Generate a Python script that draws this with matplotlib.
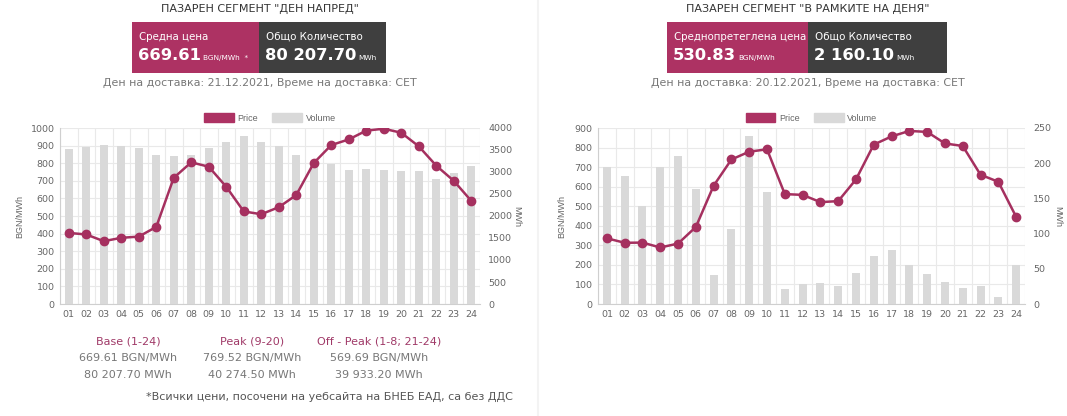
import numpy as np
import matplotlib
matplotlib.use("Agg")
from matplotlib import pyplot as plt
from matplotlib.patches import Rectangle, Patch

hours = ["%02d" % h for h in range(1, 25)]

# ден напред (day ahead), 21.12.2021
dam_price = [404, 395, 357, 376, 383, 438, 717, 805, 780, 666, 526, 510,
             550, 619, 801, 903, 935, 985, 996, 973, 896, 786, 700, 586]
dam_volume = [3522, 3560, 3613, 3598, 3537, 3393, 3355, 3393, 3545, 3681, 3818, 3674,
              3598, 3385, 3142, 3180, 3051, 3059, 3051, 3021, 3021, 2839, 2983, 3127]

# в рамките на деня (intraday), 20.12.2021
idm_price = [336, 313, 314, 289, 309, 394, 605, 739, 779, 791, 562, 558,
             521, 526, 637, 815, 857, 885, 880, 821, 808, 661, 625, 446]
idm_volume = [194, 182, 139, 194, 210, 163, 41, 107, 239, 159, 21, 28,
              30, 25, 44, 68, 76, 55, 42, 31, 23, 25, 10, 55]

W, H = 1067, 416
MAGENTA = "#ad3263"
LINE = "#a5305f"
DARK = "#3f3f3f"
BAR = "#d9d9d9"
GRID = "#e9e9e9"
TXT = "#666666"

plt.rcParams["font.family"] = ["DejaVu Sans"]

fig = plt.figure(figsize=(W / 100, H / 100), dpi=100)
fig.patch.set_facecolor("white")


def px_axes(x0, y0, x1, y1):
    return fig.add_axes([x0 / W, 1 - y1 / H, (x1 - x0) / W, (y1 - y0) / H])


def draw_chart(x0, x1, price, volume, pmax, pstep, vmax, vstep, ylab_x, ylab2_x):
    y0, y1 = 128, 304
    x = np.arange(len(hours))
    base = px_axes(x0, y0, x1, y1)
    base.set_xlim(-0.5, len(hours) - 0.5)
    base.set_ylim(0, pmax)
    base.set_yticks(np.arange(0, pmax + 1, pstep))
    base.set_xticks(x)
    base.set_xticklabels(hours)
    base.set_xticks(np.arange(-0.5, len(hours)), minor=True)
    base.grid(True, which="major", axis="y", color=GRID, lw=0.8)
    base.grid(True, which="minor", axis="x", color=GRID, lw=0.8)
    base.tick_params(which="both", length=0)
    base.tick_params(axis="both", labelsize=6.8, labelcolor=TXT, pad=4)
    for s in ["top", "right"]:
        base.spines[s].set_visible(False)
    for s in ["left", "bottom"]:
        base.spines[s].set_color("#cfcfcf")
        base.spines[s].set_linewidth(0.8)

    vol = base.twinx()
    vol.bar(x, volume, width=0.45, color=BAR, zorder=2)
    vol.set_ylim(0, vmax)
    vol.set_yticks(np.arange(0, vmax + 1, vstep))
    vol.tick_params(length=0, labelsize=6.8, labelcolor=TXT, pad=6)
    for s in vol.spines.values():
        s.set_visible(False)

    top = base.twinx()
    top.plot(x, price, color=LINE, lw=1.8, marker="o", ms=6,
             markerfacecolor=LINE, markeredgecolor=LINE, zorder=3)
    top.set_ylim(0, pmax)
    top.set_yticks([])
    for s in top.spines.values():
        s.set_visible(False)

    fig.text(ylab_x / W, 1 - 216 / H, "BGN/MWh", rotation=90, ha="center", va="center",
             fontsize=6.5, color=TXT, family="Liberation Sans")
    fig.text(ylab2_x / W, 1 - 216 / H, "MWh", rotation=-90, ha="center", va="center",
             fontsize=6.5, color=TXT, family="Liberation Sans")

    handles = [Patch(facecolor=MAGENTA, edgecolor=MAGENTA, label="Price"),
               Patch(facecolor=BAR, edgecolor=BAR, label="Volume")]
    base.legend(handles=handles, loc="lower center", bbox_to_anchor=(0.5, 1.0), ncol=2,
                frameon=False, handlelength=3.3, handleheight=1.0,
                columnspacing=1.6, handletextpad=0.4, borderaxespad=0.2,
                labelcolor=TXT, prop={"family": "Liberation Sans", "size": 6.5})


draw_chart(60, 480, dam_price, dam_volume, 1000, 100, 4000, 500, 20, 517)
draw_chart(598, 1025, idm_price, idm_volume, 900, 100, 250, 50, 562, 1058)

# overlay in pixel coordinates for header and footer blocks
ov = fig.add_axes([0, 0, 1, 1], zorder=-5)
ov.set_xlim(0, W)
ov.set_ylim(H, 0)
ov.axis("off")
ov.plot([538, 538], [0, H], color="#f3f3f3", lw=1.5)

fig.canvas.draw()
renderer = fig.canvas.get_renderer()


def after(t, gap=3):
    bb = t.get_window_extent(renderer)
    return ov.transData.inverted().transform((bb.x1, bb.y0))[0] + gap


def header(cx, title, bx0, bmid, bx1, lab1, val1, unit1, val2, date):
    ov.text(cx, 9, title, ha="center", va="center", fontsize=8.0, color="#333333")
    ov.add_patch(Rectangle((bx0, 22), bmid - bx0, 51, color=MAGENTA, lw=0))
    ov.add_patch(Rectangle((bmid, 22), bx1 - bmid, 51, color=DARK, lw=0))
    ov.text(bx0 + 7, 37, lab1, ha="left", va="center", fontsize=7.4, color="white")
    t = ov.text(bx0 + 6, 55, val1, ha="left", va="center", fontsize=11.8,
                fontweight="bold", color="white")
    ov.text(after(t, 2), 58, unit1, ha="left", va="center", fontsize=5.3, color="white")
    ov.text(bmid + 7, 37, "Общо Количество", ha="left", va="center", fontsize=7.4, color="white")
    t = ov.text(bmid + 6, 55, val2, ha="left", va="center", fontsize=11.8,
                fontweight="bold", color="white")
    ov.text(after(t, 2), 58, "MWh", ha="left", va="center", fontsize=5.3, color="white")
    ov.text(cx, 83, date, ha="center", va="center", fontsize=7.9, color="#777777")


header(260, 'ПАЗАРЕН СЕГМЕНТ "ДЕН НАПРЕД"', 132, 259, 386,
       "Средна цена", "669.61", "BGN/MWh  *", "80 207.70",
       "Ден на доставка: 21.12.2021, Време на доставка: CET")
header(808, 'ПАЗАРЕН СЕГМЕНТ "В РАМКИТЕ НА ДЕНЯ"', 667, 808, 947,
       "Среднопретеглена цена", "530.83", "BGN/MWh", "2 160.10",
       "Ден на доставка: 20.12.2021, Време на доставка: CET")

# summary under the day-ahead chart
summary_titles = ["Base (1-24)", "Peak (9-20)", "Off - Peak (1-8; 21-24)"]
summary_prices = ["669.61 BGN/MWh", "769.52 BGN/MWh", "569.69 BGN/MWh"]
summary_volumes = ["80 207.70 MWh", "40 274.50 MWh", "39 933.20 MWh"]
for cx, a, b, c in zip([128, 252, 379], summary_titles, summary_prices, summary_volumes):
    ov.text(cx, 341, a, ha="center", va="center", fontsize=8.0, color="#a03a68")
    ov.text(cx, 358, b, ha="center", va="center", fontsize=8.0, color="#777777")
    ov.text(cx, 375, c, ha="center", va="center", fontsize=8.0, color="#777777")
ov.text(513, 397, "*Всички цени, посочени на уебсайта на БНЕБ ЕАД, са без ДДС",
        ha="right", va="center", fontsize=8.0, color="#555555")

fig.savefig("out.png", dpi=100, facecolor="white")
